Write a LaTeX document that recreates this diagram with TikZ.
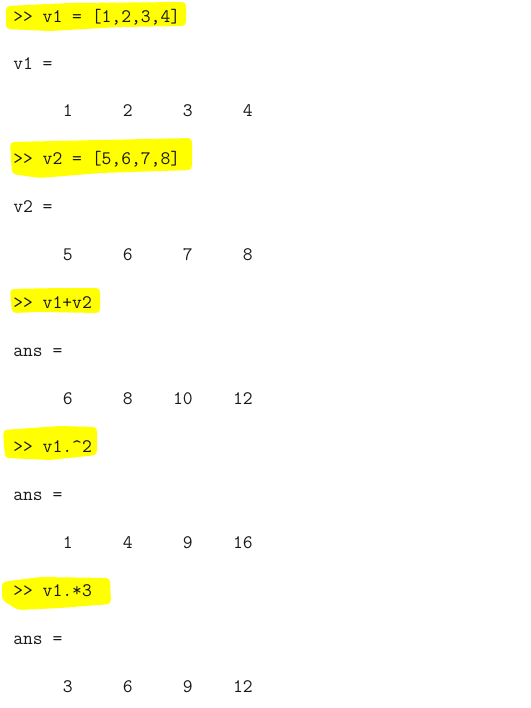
\documentclass[tikz,border=0pt]{standalone}
\usepackage{fontspec}
\definecolor{marker}{RGB}{255,255,0}
\definecolor{console}{RGB}{24,24,24}
\tikzset{
  line/.style={anchor=base west, inner sep=0pt, text=console,
    font=\ttfamily\fontsize{14.3}{16}\selectfont},
  num/.style={line, anchor=base east},
  marked/.style={fill=marker, draw=none, rounded corners=3pt}
}

\begin{document}
\begin{tikzpicture}[x=0.75pt, y=-0.75pt]
  \useasboundingbox (0,0) rectangle (531,708);

  % highlights
  \fill[marked] (6,6) -- (70,3) -- (186,2) -- (186,26) -- (120,27) -- (50,31) -- (6,29) -- cycle;
  \fill[marked] (10,142) -- (100,140) -- (192,138) -- (192,170) -- (100,173) -- (40,178) -- (12,174) -- cycle;
  \fill[marked] (10,289) -- (60,288) -- (100,288) -- (100,313) -- (40,312) -- (12,313) -- cycle;
  \fill[marked] (3,430) -- (60,426) -- (97,427) -- (97,455) -- (50,460) -- (5,458) -- cycle;
  \fill[marked] (2,582) -- (40,577) -- (110,578) -- (111,604) -- (60,608) -- (18,610) -- (2,600) -- cycle;

  % commands
  \node[line] (cmd1) at (13,22) {>> v1 = [1,2,3,4]};
  \node[line] (cmd2) at (13,164) {>> v2 = [5,6,7,8]};
  \node[line] (cmd3) at (13,308) {>> v1+v2};
  \node[line] (cmd4) at (13,452) {>> v1.\textasciicircum2};
  \node[line] (cmd5) at (13,596) {>> v1.*3};

  % results
  \node[line] (res1) at (13,69) {v1 =};
  \node[line] (res2) at (13,212) {v2 =};
  \node[line] (res3) at (13,356) {ans =};
  \node[line] (res4) at (13,500) {ans =};
  \node[line] (res5) at (13,644) {ans =};

  % values
  \foreach \v [count=\i] in {1,2,3,4}
    \node[num] (val1-\i) at (13+60*\i,116) {\v};
  \foreach \v [count=\i] in {5,6,7,8}
    \node[num] (val2-\i) at (13+60*\i,260) {\v};
  \foreach \v [count=\i] in {6,8,10,12}
    \node[num] (val3-\i) at (13+60*\i,404) {\v};
  \foreach \v [count=\i] in {1,4,9,16}
    \node[num] (val4-\i) at (13+60*\i,548) {\v};
  \foreach \v [count=\i] in {3,6,9,12}
    \node[num] (val5-\i) at (13+60*\i,692) {\v};
\end{tikzpicture}
\end{document}
